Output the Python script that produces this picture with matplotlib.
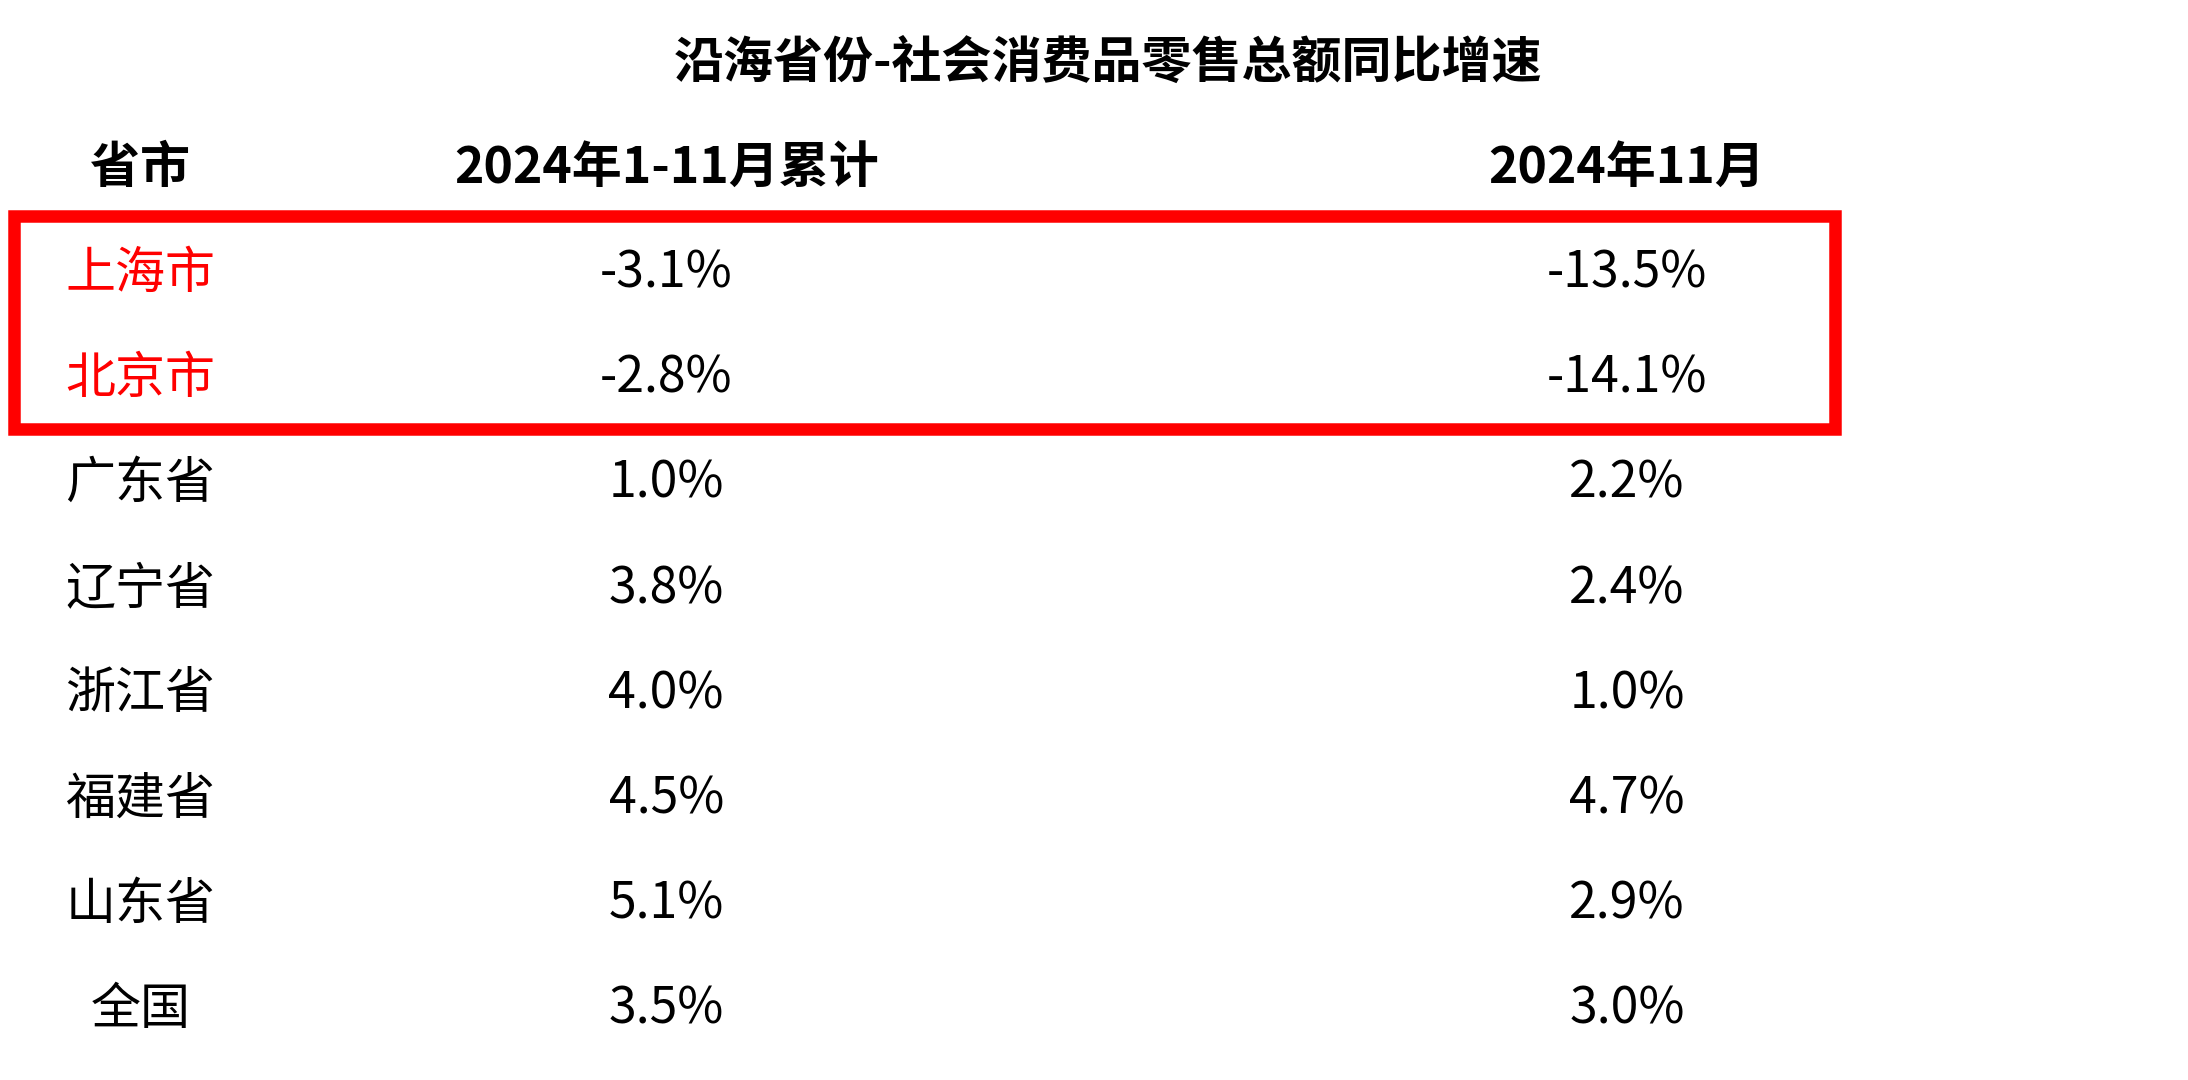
import matplotlib.pyplot as plt
from matplotlib.patches import Rectangle

plt.rcParams['font.family'] = ['Noto Sans CJK SC', 'DejaVu Sans']

title = '沿海省份-社会消费品零售总额同比增速'
headers = ['省市', '2024年1-11月累计', '2024年11月']
provinces = ['上海市', '北京市', '广东省', '辽宁省', '浙江省', '福建省', '山东省', '全国']
ytd = ['-3.1%', '-2.8%', '1.0%', '3.8%', '4.0%', '4.5%', '5.1%', '3.5%']
nov = ['-13.5%', '-14.1%', '2.2%', '2.4%', '1.0%', '4.7%', '2.9%', '3.0%']
highlight = ['上海市', '北京市']

fig = plt.figure(figsize=(21.88, 10.8), dpi=100)
ax = fig.add_axes([0, 0, 1, 1])
ax.set_xlim(0, 1560)
ax.set_ylim(770, 0)
ax.axis('off')

ax.text(790, 45, title, ha='center', va='center', fontsize=36, fontweight='bold')
col_x = [100, 475, 1160]
for x, h in zip(col_x, headers):
    ax.text(x, 120, h, ha='center', va='center', fontsize=36, fontweight='bold')

for i, (p, a, b) in enumerate(zip(provinces, ytd, nov)):
    y = 195 + 75 * i
    c = 'red' if p in highlight else 'black'
    ax.text(col_x[0], y, p, ha='center', va='center', fontsize=36, color=c)
    ax.text(col_x[1], y, a, ha='center', va='center', fontsize=36)
    ax.text(col_x[2], y, b, ha='center', va='center', fontsize=36)

ax.add_patch(Rectangle((10, 154), 1298, 152, fill=False, edgecolor='#ff0000', linewidth=9))

fig.savefig('out.png', dpi=100)
